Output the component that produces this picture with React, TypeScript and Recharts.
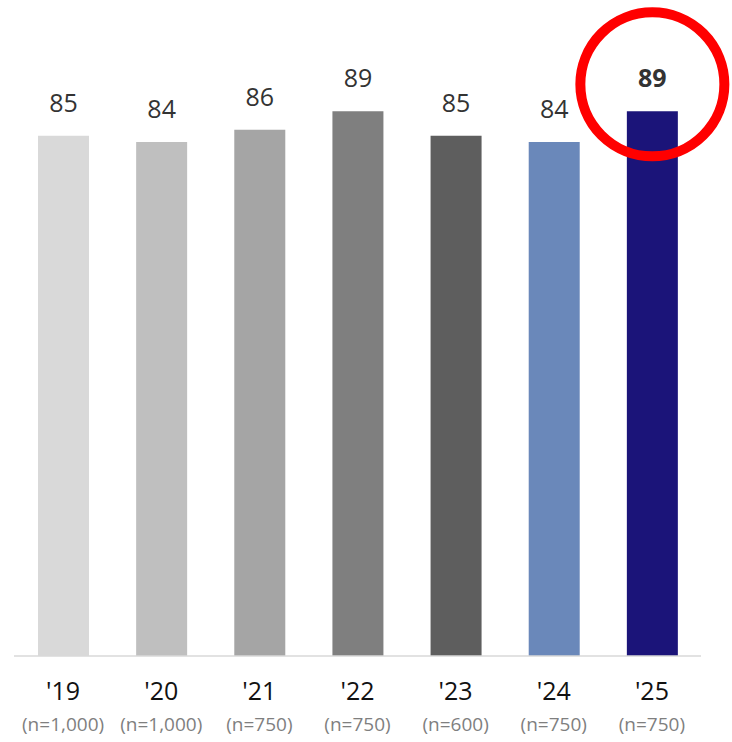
import { Bar, BarChart, Cell, LabelList, XAxis, YAxis } from "recharts";

const years = ["'19", "'20", "'21", "'22", "'23", "'24", "'25"];
const samples = ["(n=1,000)", "(n=1,000)", "(n=750)", "(n=750)", "(n=600)", "(n=750)", "(n=750)"];
const scores = [85, 84, 86, 89, 85, 84, 89];
const colors = ["#D9D9D9", "#BFBFBF", "#A5A5A5", "#7F7F7F", "#5E5E5E", "#6A88BA", "#1B1479"];

const FONT = "'Open Sans', 'Noto Sans', sans-serif";

const YearTick = ({ x, y, payload, index }: any) => (
  <g>
    <text x={x} y={y + 36} textAnchor="middle" fontSize={25} fill="#111" fontFamily={FONT}>
      {payload.value}
    </text>
    <text x={x} y={y + 67} textAnchor="middle" fontSize={19} fill="#7f7f7f" fontFamily={FONT}>
      {samples[index]}
    </text>
  </g>
);

const ValueLabel = ({ x, y, width, value, index }: any) => {
  const cx = x + width / 2;
  const last = index === scores.length - 1;
  return (
    <g>
      <text
        x={cx}
        y={y - 24}
        textAnchor="middle"
        fontSize={25}
        fontWeight={last ? 700 : 400}
        fill="#333"
        fontFamily={FONT}
      >
        {value}
      </text>
      {last && (
        <circle cx={cx} cy={y - 27} r={72} fill="none" stroke="#FF0000" strokeWidth={10} />
      )}
    </g>
  );
};

export default function App() {
  const data = years.map((year, i) => ({ year, score: scores[i] }));
  return (
    <div style={{ position: "absolute", left: 0, top: 0, width: 732, height: 742, background: "#fff" }}>
      <BarChart
        width={732}
        height={742}
        data={data}
        margin={{ top: 44, right: 31, bottom: 0, left: 14 }}
        barSize={51}
      >
        <XAxis
          dataKey="year"
          height={86}
          axisLine={{ stroke: "#d9d9d9", strokeWidth: 1.5 }}
          tickLine={false}
          tick={<YearTick />}
          interval={0}
        />
        <YAxis hide domain={[0, 100]} />
        <Bar dataKey="score" isAnimationActive={false}>
          {data.map((_, i) => (
            <Cell key={i} fill={colors[i]} />
          ))}
          <LabelList dataKey="score" content={<ValueLabel />} />
        </Bar>
      </BarChart>
    </div>
  );
}
